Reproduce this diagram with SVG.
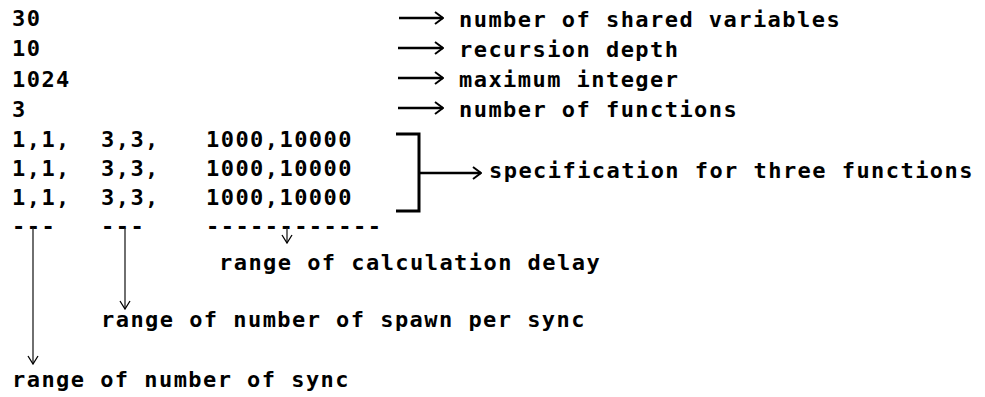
<svg xmlns="http://www.w3.org/2000/svg" width="985" height="397" viewBox="0 0 985 397">
<defs>
<style>
text{font-family:"DejaVu Sans Mono","Liberation Mono",monospace;font-weight:bold;font-size:22px;letter-spacing:1.45px;fill:#000}
.ah{fill:none;stroke:#000;stroke-width:2.5}
.av{fill:none;stroke:#222;stroke-width:1.3}
.br{fill:none;stroke:#000;stroke-width:3}
</style>
<marker id="hh" viewBox="0 0 10 14" refX="9" refY="7" markerWidth="10" markerHeight="14" markerUnits="userSpaceOnUse" orient="auto">
<path d="M1,1 L9,7 L1,13" fill="none" stroke="#000" stroke-width="2"/>
</marker>
<marker id="hv" viewBox="0 0 10 12" refX="9" refY="6" markerWidth="10" markerHeight="12" markerUnits="userSpaceOnUse" orient="auto">
<path d="M1,1 L9,6 L1,11" fill="none" stroke="#000" stroke-width="1.3"/>
</marker>
</defs>
<rect width="985" height="397" fill="#fff"/>
<g id="values">
<text x="12" y="26">30</text>
<text x="12" y="56">10</text>
<text x="12" y="87">1024</text>
<text x="12" y="117">3</text>
<text x="12" y="147">1,1,</text><text x="101" y="147">3,3,</text><text x="206" y="147">1000,10000</text>
<text x="12" y="176">1,1,</text><text x="101" y="176">3,3,</text><text x="206" y="176">1000,10000</text>
<text x="12" y="205">1,1,</text><text x="101" y="205">3,3,</text><text x="206" y="205">1000,10000</text>
<text x="12" y="234">---</text><text x="101" y="234">---</text><text x="206" y="234">------------</text>
</g>
<g id="labels">
<text x="459" y="27">number of shared variables</text>
<text x="459" y="57">recursion depth</text>
<text x="459" y="87">maximum integer</text>
<text x="459" y="117">number of functions</text>
<text x="489" y="178">specification for three functions</text>
<text x="219" y="270">range of calculation delay</text>
<text x="101" y="327">range of number of spawn per sync</text>
<text x="12" y="387">range of number of sync</text>
</g>
<g id="connectors">
<line class="ah" x1="399" y1="18" x2="443" y2="18" marker-end="url(#hh)"/>
<line class="ah" x1="398" y1="48" x2="443" y2="48" marker-end="url(#hh)"/>
<line class="ah" x1="398" y1="78" x2="443" y2="78" marker-end="url(#hh)"/>
<line class="ah" x1="398" y1="108" x2="443" y2="108" marker-end="url(#hh)"/>
<polyline class="br" points="396,134 419,134 419,211 396,211"/>
<line class="ah" x1="419" y1="173" x2="481" y2="173" marker-end="url(#hh)"/>
<line class="av" x1="33" y1="228" x2="33" y2="364" marker-end="url(#hv)"/>
<line class="av" x1="125" y1="228" x2="125" y2="309" marker-end="url(#hv)"/>
<line class="av" x1="287" y1="228" x2="287" y2="243" marker-end="url(#hv)"/>
</g>
</svg>
